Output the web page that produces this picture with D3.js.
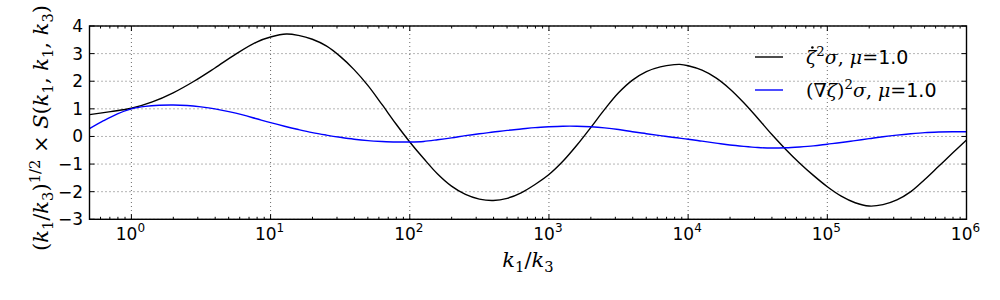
<!DOCTYPE html>
<html>
<head>
<meta charset="utf-8">
<script src="https://cdn.jsdelivr.net/npm/d3@7"></script>
<style>
  html, body { margin: 0; padding: 0; background: #fff; }
  svg { display: block; }
</style>
</head>
<body>
<svg id="chart" width="1000" height="300"></svg>
<script>
// ---------------- data ----------------
const blackX = [0.5, 0.708, 1, 1.413, 1.995, 2.818, 3.981, 5.623, 7.943, 10, 12.97, 15.85, 19.95, 25.12, 31.62, 39.81, 50.12, 63.1, 79.43,
  100, 125.9, 158.5, 199.5, 251.2, 316.2, 398.1, 501.2, 631, 794.3,
  1000, 1259, 1585, 1995, 2512, 3162, 3981, 5012, 6310, 7943, 8710,
  10000, 12590, 15850, 19950, 25120, 31620, 39810, 50120, 63100, 79430,
  100000, 125900, 158500, 199500, 251200, 316200, 398100, 501200, 631000, 794300, 1000000];
const blackY = [0.79, 0.90, 1.02, 1.25, 1.58, 2.00, 2.48, 2.98, 3.42, 3.60, 3.71, 3.66, 3.52, 3.28, 2.90, 2.42, 1.84, 1.16, 0.46,
  -0.20, -0.80, -1.36, -1.80, -2.10, -2.27, -2.32, -2.24, -2.04, -1.74,
  -1.38, -0.90, -0.32, 0.32, 0.98, 1.58, 2.04, 2.35, 2.52, 2.60, 2.61,
  2.56, 2.40, 2.12, 1.72, 1.22, 0.66, 0.08, -0.46, -0.96, -1.41,
  -1.82, -2.16, -2.40, -2.52, -2.47, -2.30, -2.00, -1.56, -1.08, -0.60, -0.13];

const blueX = [0.5, 0.631, 0.794, 1, 1.259, 1.585, 1.995, 2.512, 3.162, 3.981, 5.012, 6.31, 7.943,
  10, 12.59, 15.85, 19.95, 25.12, 31.62, 39.81, 50.12, 63.1, 79.43,
  100, 125.9, 158.5, 199.5, 251.2, 316.2, 398.1, 501.2, 631, 794.3,
  1000, 1259, 1585, 1995, 2512, 3162, 3981, 5012, 6310, 7943,
  10000, 12590, 15850, 19950, 25120, 31620, 39810, 50120, 63100, 79430,
  100000, 125900, 158500, 199500, 251200, 316200, 398100, 501200, 631000, 794300, 1000000];
const blueY = [0.28, 0.57, 0.82, 1.00, 1.09, 1.13, 1.14, 1.12, 1.07, 1.00, 0.90, 0.78, 0.64,
  0.50, 0.37, 0.25, 0.14, 0.05, -0.03, -0.10, -0.15, -0.18, -0.20,
  -0.20, -0.18, -0.12, -0.05, 0.03, 0.10, 0.16, 0.22, 0.27, 0.32,
  0.35, 0.37, 0.37, 0.35, 0.31, 0.25, 0.17, 0.10, 0.03, -0.04,
  -0.10, -0.17, -0.24, -0.31, -0.36, -0.40, -0.42, -0.41, -0.38, -0.34,
  -0.28, -0.22, -0.15, -0.08, -0.01, 0.05, 0.10, 0.14, 0.16, 0.17, 0.17];

const xTickExps = [0, 1, 2, 3, 4, 5, 6];
const yTicks = [-3, -2, -1, 0, 1, 2, 3, 4];
const xDomain = [0.5, 1e6];
const yDomain = [-3, 4];

// ---------------- layout ----------------
const L = 89.5, R = 966.5, T = 26, B = 219.3;
const svg = d3.select("#chart");
const x = d3.scaleLog().domain(xDomain).range([L, R]);
const y = d3.scaleLinear().domain(yDomain).range([B, T]);

const SANS = "'DejaVu Sans', sans-serif";
const SERIF = "'DejaVu Serif', serif";

// math text helper
function addMath(text, segs, size) {
  let cur = 0;
  segs.forEach(s => {
    const small = s.pos === "sub" || s.pos === "sup";
    const fs = small ? size * 0.7 : size;
    const target = s.pos === "sub" ? size * 0.22 : s.pos === "sup" ? -size * 0.4 : 0;
    const ts = text.append("tspan")
      .attr("dy", target - cur)
      .style("font-size", fs + "px")
      .style("font-family", s.f === "s" ? SANS : SERIF)
      .style("font-style", s.f === "i" ? "italic" : "normal")
      .text(s.t);
    if (s.dx) ts.attr("dx", s.dx);
    cur = target;
  });
}

// grid
const grid = svg.append("g").attr("stroke", "#444").attr("stroke-width", 0.8).attr("stroke-dasharray", "1,3");
xTickExps.forEach(e => {
  const px = x(Math.pow(10, e));
  grid.append("line").attr("x1", px).attr("x2", px).attr("y1", T).attr("y2", B);
});
yTicks.forEach(v => {
  grid.append("line").attr("x1", L).attr("x2", R).attr("y1", y(v)).attr("y2", y(v));
});

// clip
svg.append("clipPath").attr("id", "clip").append("rect")
  .attr("x", L).attr("y", T).attr("width", R - L).attr("height", B - T);

const line = d3.line().x(d => x(d[0])).y(d => y(d[1])).curve(d3.curveCatmullRom.alpha(0.5));
const plot = svg.append("g").attr("clip-path", "url(#clip)");
plot.append("path").datum(blackX.map((v, i) => [v, blackY[i]]))
  .attr("d", line).attr("fill", "none").attr("stroke", "#000").attr("stroke-width", 1.4);
plot.append("path").datum(blueX.map((v, i) => [v, blueY[i]]))
  .attr("d", line).attr("fill", "none").attr("stroke", "#0000ff").attr("stroke-width", 1.4);

// ticks (inward, all four sides)
const ticks = svg.append("g").attr("stroke", "#000").attr("stroke-width", 1);
const minor = x.ticks().filter(v => Math.abs(Math.log10(v) - Math.round(Math.log10(v))) > 1e-9);
minor.forEach(v => {
  const px = x(v);
  ticks.append("line").attr("x1", px).attr("x2", px).attr("y1", B).attr("y2", B - 2.5);
  ticks.append("line").attr("x1", px).attr("x2", px).attr("y1", T).attr("y2", T + 2.5);
});
xTickExps.forEach(e => {
  const px = x(Math.pow(10, e));
  ticks.append("line").attr("x1", px).attr("x2", px).attr("y1", B).attr("y2", B - 5);
  ticks.append("line").attr("x1", px).attr("x2", px).attr("y1", T).attr("y2", T + 5);
});
yTicks.forEach(v => {
  ticks.append("line").attr("x1", L).attr("x2", L + 5).attr("y1", y(v)).attr("y2", y(v));
  ticks.append("line").attr("x1", R).attr("x2", R - 5).attr("y1", y(v)).attr("y2", y(v));
});

// frame
svg.append("rect").attr("x", L).attr("y", T).attr("width", R - L).attr("height", B - T)
  .attr("fill", "none").attr("stroke", "#000").attr("stroke-width", 1.4);

// x tick labels
xTickExps.forEach(e => {
  const t = svg.append("text").attr("x", x(Math.pow(10, e)) - 1).attr("y", 240)
    .attr("text-anchor", "middle").style("font-family", SANS).style("font-size", "17px").attr("fill", "#000");
  t.append("tspan").text("10");
  t.append("tspan").attr("dy", -8).style("font-size", "12px").text(String(e));
});

// y tick labels
yTicks.forEach(v => {
  svg.append("text").attr("x", 83).attr("y", y(v) + 6).attr("text-anchor", "end")
    .style("font-family", SANS).style("font-size", "17px").attr("fill", "#000")
    .text(v < 0 ? "\u2212" + Math.abs(v) : String(v));
});

// x label
const xl = svg.append("text").attr("x", (L + R) / 2).attr("y", 267).attr("text-anchor", "middle").attr("fill", "#000");
addMath(xl, [{t: "k", f: "i"}, {t: "1", f: "r", pos: "sub"}, {t: "/", f: "r"}, {t: "k", f: "i"}, {t: "3", f: "r", pos: "sub"}], 21);

// y label
const yl = svg.append("text").attr("transform", "translate(48,128) rotate(-90)")
  .attr("text-anchor", "middle").attr("fill", "#000");
addMath(yl, [
  {t: "(", f: "r"}, {t: "k", f: "i"}, {t: "1", f: "r", pos: "sub"}, {t: "/", f: "r"}, {t: "k", f: "i"},
  {t: "3", f: "r", pos: "sub"}, {t: ")", f: "r"}, {t: "1/2", f: "r", pos: "sup"},
  {t: " \u00d7 ", f: "r"}, {t: "S", f: "i"}, {t: "(", f: "r"}, {t: "k", f: "i"}, {t: "1", f: "r", pos: "sub"},
  {t: ", ", f: "r"}, {t: "k", f: "i"}, {t: "1", f: "r", pos: "sub"}, {t: ", ", f: "r"}, {t: "k", f: "i"},
  {t: "3", f: "r", pos: "sub"}, {t: ")", f: "r"}
], 21);

// legend
const legendRows = [
  {color: "#000", y: 57, dot: true, segs: [
    {t: "\u03b6", f: "i"}, {t: "2", f: "r", pos: "sup"}, {t: "\u03c3", f: "i"}, {t: ", ", f: "r"},
    {t: "\u03bc", f: "i"}, {t: "=", f: "r"}, {t: "1.0", f: "s"}]},
  {color: "#0000ff", y: 90, segs: [
    {t: "(\u2207", f: "r"}, {t: "\u03b6", f: "i"}, {t: ")", f: "r"}, {t: "2", f: "r", pos: "sup"},
    {t: "\u03c3", f: "i"}, {t: ", ", f: "r"}, {t: "\u03bc", f: "i"}, {t: "=", f: "r"}, {t: "1.0", f: "s"}]}
];
legendRows.forEach(r => {
  svg.append("line").attr("x1", 755).attr("x2", 783).attr("y1", r.y).attr("y2", r.y)
    .attr("stroke", r.color).attr("stroke-width", 1.4);
  const t = svg.append("text").attr("x", 806).attr("y", r.y + 7).attr("fill", "#000");
  addMath(t, r.segs, 19);
  if (r.dot) {
    // dot accent over zeta
    let cx = 815, cy = r.y - 9;
    try {
      const ext = t.node().getExtentOfChar(0);
      cx = ext.x + ext.width * 0.62;
      cy = ext.y + 1.5;
    } catch (e) {}
    svg.append("circle").attr("cx", cx).attr("cy", cy).attr("r", 1.3).attr("fill", "#000");
  }
});
</script>
</body>
</html>
